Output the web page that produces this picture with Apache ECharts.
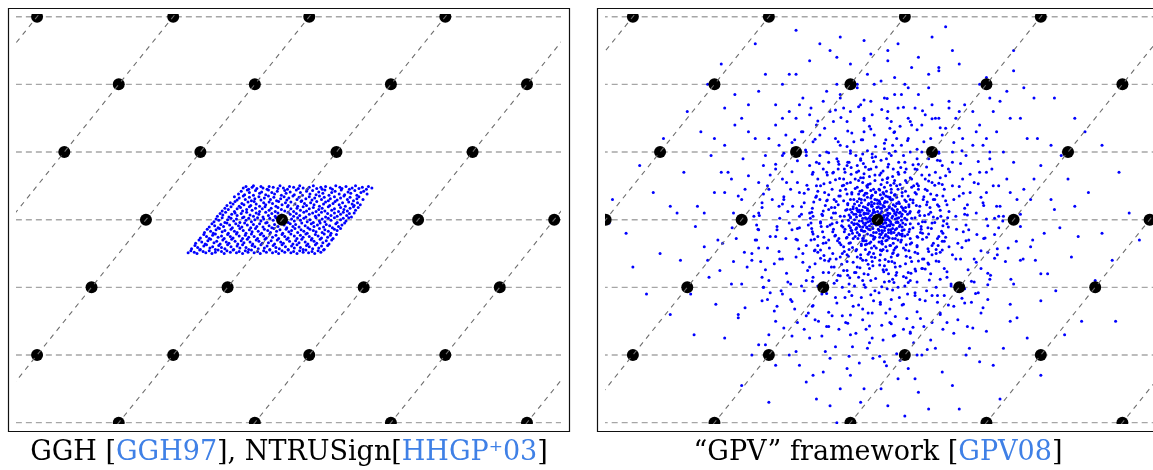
<!DOCTYPE html>
<html>
<head>
<meta charset="utf-8">
<title>GGH / GPV lattice</title>
<script src="https://cdn.jsdelivr.net/npm/echarts@6.0.0/dist/echarts.min.js"></script>
<style>
  html, body { margin: 0; padding: 0; background: #fff; }
  #chart { width: 1153px; height: 470px; }
</style>
</head>
<body>
<div id="chart"></div>
<script>
// lattice basis b1 = (200, 0), b2 = (80, 100), in 1/100 lattice units
const rowYs = [-300, -200, -100, 0, 100, 200, 300]
const diagOffsets = [-600, -400, -200, 0, 200, 400, 600]
const diagSlope = 0.8

const latticePts = [
  [-360, 300], [-160, 300], [40, 300], [240, 300],
  [-240, 200], [-40, 200], [160, 200], [360, 200],
  [-320, 100], [-120, 100], [80, 100], [280, 100],
  [-400, 0], [-200, 0], [0, 0], [200, 0], [400, 0],
  [-280, -100], [-80, -100], [120, -100], [320, -100],
  [-360, -200], [-160, -200], [40, -200], [240, -200],
  [-240, -300], [-40, -300], [160, -300], [360, -300]
]

// GGH: points inside the fundamental parallelogram (x, y, x, y ...)
const leftCloud = [
  -57,47, -53,49, -49,45, -44,48, -42,50, -37,46, -31,49, -28,47, -22,45, -19,49, -13,48, -6,46, -3,50, 2,47, 8,45, 11,49, 17,48, 24,46, 26,50, 31,47, 37,45, 40,48, 46,50, 51,46, 57,48, 59,45, 64,49, 71,47, 74,45, 79,50, 85,48, 88,46, 94,49, 99,45, 103,47, 108,50, 113,46, 118,48, 124,45, 127,49, 132,47,
  -64,38, -60,42, -55,37, -51,44, -48,40, -42,36, -39,43, -33,39, -30,41, -24,37, -20,44, -15,40, -11,38, -7,42, -1,36, 4,43, 6,39, 12,41, 18,37, 21,44, 27,40, 30,36, 36,42, 41,38, 45,43, 50,37, 54,41, 60,39, 63,44, 69,36, 73,40, 78,42, 84,38, 87,44, 92,37, 97,41, 101,39, 107,43, 110,36, 116,40, 120,42, 125,38,
  -70,34, -66,29, -63,32, -57,35, -54,30, -48,33, -45,28, -40,31, -34,34, -31,29, -26,32, -20,35, -17,30, -12,33, -8,28, -2,31, 3,34, 7,29, 10,32, 16,35, 22,30, 25,33, 29,28, 35,31, 40,34, 44,29, 48,32, 55,35, 58,30, 62,33, 68,28, 71,31, 77,34, 81,29, 86,32, 91,35, 96,30, 100,33, 105,28, 110,31, 113,34, 119,30,
  -81,21, -76,25, -72,23, -69,27, -63,20, -59,24, -56,22, -50,26, -46,21, -41,27, -38,23, -33,20, -27,25, -24,22, -19,26, -14,24, -9,20, -5,27, 0,22, 5,25, 9,21, 13,26, 19,23, 23,20, 28,27, 33,24, 36,21, 42,25, 47,22, 51,27, 55,20, 61,23, 64,26, 70,21, 75,24, 78,27, 84,22, 89,25, 93,20, 98,26, 103,23, 106,21, 111,25, 115,22,
  -88,13, -84,17, -79,15, -75,19, -70,12, -66,16, -61,18, -58,13, -52,15, -48,19, -44,14, -39,17, -33,12, -29,16, -25,19, -19,14, -16,17, -10,12, -6,18, -1,15, 4,13, 8,19, 13,16, 17,12, 22,17, 27,14, 31,19, 36,13, 40,16, 46,18, 50,12, 54,15, 59,17, 63,13, 68,19, 73,14, 77,16, 83,12, 86,18, 91,15, 96,13, 100,17, 105,19, 108,14, 112,18,
  -95,5, -91,9, -87,7, -83,11, -78,4, -74,8, -69,10, -66,6, -60,9, -56,4, -52,11, -47,7, -42,5, -38,10, -34,8, -28,4, -24,11, -20,6, -15,9, -10,5, -6,10, -1,7, 3,4, 9,11, 12,8, 17,5, 21,9, 26,6, 32,11, 35,4, 40,8, 45,10, 49,5, 54,7, 58,11, 64,4, 67,9, 72,6, 77,10, 81,5, 86,8, 90,11, 95,6, 99,9, 102,4, 106,10,
  -100,-3, -97,1, -93,-1, -88,3, -84,-4, -80,0, -75,2, -71,-2, -67,1, -62,-4, -58,3, -53,-1, -49,2, -45,-3, -40,0, -36,3, -31,-2, -27,1, -22,-4, -18,2, -13,-1, -9,3, -4,-3, 0,0, 5,2, 9,-4, 14,1, 18,-2, 23,3, 27,-1, 32,2, 37,-3, 41,0, 46,-4, 50,3, 55,-2, 59,1, 63,-3, 68,2, 72,-1, 77,3, 81,-4, 86,0, 90,2, 94,-2, 98,3,
  -107,-11, -103,-6, -99,-9, -94,-12, -90,-7, -86,-10, -81,-5, -77,-8, -73,-12, -68,-6, -64,-9, -59,-11, -55,-5, -51,-8, -46,-12, -42,-7, -37,-10, -33,-6, -28,-11, -24,-5, -19,-9, -15,-12, -11,-7, -6,-10, -2,-5, 3,-8, 7,-12, 12,-6, 16,-10, 20,-7, 25,-11, 29,-5, 34,-9, 38,-12, 43,-6, 47,-10, 52,-8, 56,-5, 61,-11, 65,-7, 70,-9, 74,-12, 79,-6, 83,-10, 88,-8, 92,-5,
  -114,-19, -110,-14, -105,-17, -101,-20, -97,-15, -92,-13, -88,-18, -84,-16, -79,-20, -75,-14, -70,-17, -66,-19, -62,-13, -57,-16, -53,-20, -48,-15, -44,-18, -39,-13, -35,-17, -30,-20, -26,-14, -21,-16, -17,-19, -12,-13, -8,-17, -3,-15, 1,-20, 6,-14, 10,-18, 14,-16, 19,-13, 23,-19, 28,-15, 32,-17, 37,-20, 41,-14, 46,-16, 50,-18, 55,-13, 59,-19, 63,-15, 68,-17, 72,-20, 77,-14, 81,-16, 86,-13,
  -120,-27, -115,-22, -111,-25, -107,-28, -102,-23, -98,-21, -94,-26, -89,-24, -85,-28, -80,-22, -76,-25, -72,-27, -67,-21, -63,-24, -58,-28, -54,-23, -49,-26, -45,-21, -41,-25, -36,-28, -32,-22, -27,-24, -23,-27, -18,-21, -14,-26, -9,-23, -5,-28, 0,-22, 4,-25, 9,-27, 13,-21, 18,-24, 22,-28, 27,-23, 31,-26, 35,-21, 40,-25, 44,-28, 49,-22, 53,-24, 58,-27, 62,-21, 67,-26, 71,-23, 75,-28, 80,-22,
  -127,-35, -122,-30, -118,-33, -113,-36, -109,-31, -105,-29, -100,-34, -96,-32, -91,-36, -87,-30, -82,-33, -78,-35, -74,-29, -69,-32, -65,-36, -60,-31, -56,-34, -51,-29, -47,-33, -43,-36, -38,-30, -34,-32, -29,-35, -25,-29, -20,-34, -16,-31, -11,-36, -7,-30, -2,-33, 2,-35, 7,-29, 11,-32, 16,-36, 20,-31, 25,-34, 29,-29, 34,-33, 38,-36, 43,-30, 47,-32, 51,-35, 56,-29, 60,-34, 65,-31, 69,-36, 73,-30,
  -133,-43, -128,-38, -124,-41, -120,-44, -115,-39, -111,-37, -106,-42, -102,-40, -98,-44, -93,-38, -89,-41, -84,-43, -80,-37, -75,-40, -71,-44, -66,-39, -62,-42, -58,-37, -53,-41, -49,-44, -44,-38, -40,-40, -35,-43, -31,-37, -26,-42, -22,-39, -18,-44, -13,-38, -9,-41, -4,-43, 0,-37, 5,-40, 9,-44, 14,-39, 18,-42, 22,-37, 27,-41, 31,-44, 36,-38, 40,-40, 45,-43, 49,-37, 54,-42, 58,-39, 62,-44, 67,-38,
  -138,-49, -134,-46, -129,-48, -125,-50, -121,-45, -116,-47, -112,-49, -107,-46, -103,-50, -98,-48, -94,-45, -89,-47, -85,-50, -81,-46, -76,-48, -72,-45, -67,-49, -63,-47, -58,-50, -54,-46, -50,-48, -45,-45, -41,-49, -36,-47, -32,-50, -27,-46, -23,-48, -18,-45, -14,-49, -9,-47, -5,-50, 0,-46, 4,-48, 9,-45, 13,-49, 17,-47, 22,-50, 26,-46, 31,-48, 35,-45, 39,-49, 44,-47, 48,-50, 53,-46, 57,-48, 61,-45
]

// GPV: cloud around the origin lattice point (x, y, x, y ...)
const rightCloud = [
  // core
  2,-3, -5,4, 7,1, -2,-8, 11,-4, -9,-6, 4,9, -13,2, 15,6, -6,13, 1,-14, 9,-11, -17,-5, 18,-9, -11,-15, 6,17, -20,8, 21,3, 3,-21, -8,20,
  14,15, -15,14, 22,-13, -23,-2, 0,24, 12,-22, -19,-17, 25,9, -4,-26, -26,11, 17,20, 27,-4, -13,24, 8,-27, -28,-8, 20,-20, -21,19, 28,11, -1,29, 10,25,
  -24,-16, 26,-15, 5,3, -3,-1, 8,-6, -7,10, 13,0, -12,-9, 0,12, 16,-15, -18,3, 10,19, -6,-19, 19,-3, -16,-12, 4,-10, -10,1, 12,7, -1,18, 23,14,
  -25,6, 6,-16, -14,9, 17,-8, -9,22, 24,-19, -22,-11, 3,26, 15,-25, -27,14, 29,2, -5,-28, 1,6, -4,-5, 9,4, -11,-2, 7,-19, -20,-24,
  -9,-42, 4,-45, 12,-40, -18,-37, -5,-39, 7,-36, 19,-38, -22,-31, -12,-35, 2,-33, 14,-30, 23,-35, -29,-28, -17,-31, -6,-29, 6,-32, 17,-27, 30,-30,
  -33,-25, -21,-27, -10,-23, 3,-26, 11,-24, 22,-28, 33,-22, -37,-20, -27,-23, -15,-21, -7,-24, 5,-22, 16,-19, 28,-23, 36,-21,
  -39,-16, -30,-19, -21,-17, -13,-14, -2,-19, 10,-16, 20,-18, 31,-20, 39,-15, -40,-12, -32,-14, -24,-15, -16,-11, -7,-13, 2,-16, 11,-12, 19,-15, 28,-13, 36,-11,
  -42,-9, -35,-7, -26,-10, -19,-8, -8,-11, 0,-7, 6,-10, 14,-9, 23,-8, 32,-10, 41,-7, -38,-4, -30,-6, -21,-5, -14,-3, -5,-6, 3,-4, 12,-5, 20,-6, 29,-3, 37,-5,
  -43,-1, -34,0, -27,-2, -16,1, -7,-1, 1,-2, 10,0, 17,-1, 26,1, 35,-1, 43,0, -40,3, -31,4, -22,2, -11,5, -3,3, 5,4, 14,2, 22,5, 31,3, 40,2,
  -42,7, -35,8, -26,6, -17,9, -9,7, 2,8, 9,6, 18,9, 27,7, 36,8, -38,11, -29,12, -20,10, -12,13, -4,11, 6,12, 15,10, 24,13, 33,11, 41,12,
  -40,15, -31,17, -23,14, -15,16, -6,15, 4,17, 12,14, 21,16, 29,15, 37,17, -36,19, -27,21, -18,18, -9,20, 1,19, 8,21, 17,18, 26,20, 35,19,
  -34,23, -24,25, -14,22, -5,24, 4,23, 14,26, 23,22, 32,24, -30,27, -19,29, -9,26, 2,28, 11,27, 20,29, 31,26,
  -27,31, -15,33, -4,30, 7,32, 18,31, 28,33, -20,36, -9,35, 4,37, 15,34, 25,36, -16,39, -3,41, 9,38, 20,40, -10,43, 3,44, 13,42,
  // 30 - 100
  35,5, 48,12, 62,20, 41,18, 55,3, 67,30, 38,14, 52,25, 44,8, 60,11, 32,10, 69,6, 46,22,
  28,24, 36,40, 45,35, 30,45, 50,48, 22,30, 40,29, 33,52, 55,40, 26,37, 43,55, 48,30, 60,45,
  12,35, 20,45, 5,52, 15,62, 25,58, 8,40, 18,33, 3,66, 28,50, 10,48, 22,64, 6,31, 14,55,
  -8,36, -15,48, -4,58, -22,55, -12,64, -18,39, -6,45, -25,62, -10,32, -20,68, -14,52, -3,40,
  -24,30, -38,40, -30,48, -45,38, -52,50, -28,38, -40,55, -35,30, -55,35, -33,60, -47,45, -26,42,
  -32,8, -45,15, -58,22, -40,4, -62,10, -50,28, -36,16, -68,18, -55,5, -44,24, -30,14, -64,30,
  -34,-6, -48,-14, -60,-4, -42,-22, -66,-18, -53,-9, -38,-16, -70,-8, -45,-26, -57,-28, -31,-12, -63,-24,
  -27,-22, -40,-34, -32,-46, -50,-40, -24,-36, -45,-52, -36,-28, -56,-34, -30,-55, -42,-44, -52,-50, -22,-28,
  -10,-33, -18,-44, -6,-50, -22,-60, -14,-66, -2,-42, -16,-36, -25,-52, -8,-62, -20,-31, -4,-56, -12,-48,
  6,-35, 14,-46, 3,-60, 20,-55, 10,-68, 18,-38, 8,-44, 25,-64, 12,-31, 22,-50, 4,-52, 16,-62,
  26,-28, 38,-42, 30,-52, 48,-36, 55,-48, 34,-33, 42,-54, 28,-40, 58,-38, 46,-46, 36,-24, 24,-45,
  33,-8, 46,-18, 60,-6, 40,-24, 66,-20, 52,-12, 36,-16, 70,-3, 48,-28, 58,-25, 30,-4, 64,-14,
  -20,-96, 6,-99, 24,-93, -41,-86, -22,-90, -3,-87, 17,-91, 38,-84, -55,-83, -34,-78, -14,-81, 9,-77, 27,-82, 49,-79,
  -64,-70, -45,-75, -26,-71, -7,-68, 13,-74, 33,-69, 55,-73, 66,-72, -72,-61, -53,-66, -36,-63, -17,-60, 3,-67, 21,-62, 41,-65, 60,-61, 74,-64,
  -79,-53, -61,-58, -43,-54, -25,-57, -9,-55, 11,-59, 29,-53, 48,-56, 66,-58, 80,-52, -84,-45, -66,-50, -49,-47, -31,-44, -14,-51, 6,-46, 23,-49, 41,-45, 59,-50, 75,-47, 86,-44,
  -88,-38, -71,-42, -54,-37, -37,-41, -24,-38, 26,-42, 42,-37, 58,-40, 74,-43, 89,-38, -93,-29, -76,-34, -59,-31, -42,-35, 35,-30, 50,-34, 66,-29, 82,-35, 95,-32,
  -95,-21, -79,-26, -62,-23, -46,-27, 44,-22, 59,-26, 75,-21, 90,-25, -97,-13, -81,-18, -65,-14, -49,-18, 47,-14, 63,-19, 79,-13, 94,-17,
  -98,-5, -83,-10, -67,-6, -51,-11, 48,-6, 64,-10, 80,-5, 96,-9, -99,2, -84,-3, -68,3, -52,-2, 50,2, 66,-3, 82,4, 97,-2,
  -97,11, -81,6, -65,10, -49,5, 47,10, 62,6, 78,11, 93,5, -96,17, -80,13, -63,18, -47,14, 46,19, 61,13, 77,18, 92,14,
  -94,26, -77,21, -61,27, -44,22, 42,27, 57,21, 73,26, 88,22, -91,33, -74,29, -57,35, -40,30, 36,35, 52,29, 68,34, 84,30,
  -88,42, -72,37, -55,43, -38,38, -23,43, 25,37, 41,42, 57,38, 73,43, 87,36, -84,50, -67,45, -50,51, -33,46, -16,50, 2,45, 19,51, 36,46, 53,50, 70,45, 84,51,
  -79,53, -62,59, -45,54, -28,58, -11,53, 7,59, 24,54, 41,58, 58,53, 75,57, -74,66, -56,61, -39,67, -21,62, -4,66, 14,61, 31,67, 48,62, 65,66,
  -66,69, -49,75, -31,70, -13,74, 5,69, 23,75, 40,70, 58,74, -57,82, -39,77, -21,83, -2,78, 16,82, 34,77, 52,81, -44,85, -25,90, -6,86, 13,90, 31,85, -22,97, -3,93, 17,98,
  // 70 - 180
  75,8, 90,20, 105,12, 120,35, 82,30, 98,45, 115,5, 132,22, 88,2, 110,50, 125,60, 78,38, 100,28, 95,52, 128,8, 72,22, 112,30, 136,40,
  60,50, 70,60, 85,70, 75,90, 95,80, 55,75, 100,65, 65,100, 80,55, 90,100, 50,60, 110,85, 72,78, 58,90, 88,88, 104,75, 68,115, 92,62,
  30,70, 40,85, 20,95, 35,110, 15,78, 45,120, 25,130, 10,105, 38,95, 5,88, 28,120, 48,100, 18,135, 8,72, 42,75, 22,110, 33,138, 12,118,
  -10,75, -25,88, -15,102, -35,115, -5,125, -30,80, -20,130, -40,98, -8,92, -28,72, -45,108, -12,138, -38,128, -22,118, -3,108, -42,85, -18,78, -32,95,
  -50,60, -65,70, -60,90, -80,75, -75,100, -55,110, -90,85, -45,80, -70,55, -95,70, -62,120, -85,95, -48,70, -100,80, -72,85, -58,75, -88,60, -105,95,
  -72,15, -85,30, -100,10, -115,40, -90,50, -125,20, -78,40, -108,25, -95,5, -132,12, -82,8, -118,55, -102,45, -138,30, -75,28, -112,8, -90,35, -128,45,
  -74,-10, -88,-25, -102,-8, -118,-30, -92,-45, -126,-15, -80,-35, -110,-50, -96,-18, -135,-28, -84,-5, -120,-55, -105,-38, -72,-30, -130,-5, -98,-30, -115,-12, -88,-48,
  -55,-55, -68,-70, -60,-90, -80,-78, -75,-102, -52,-100, -95,-85, -45,-62, -70,-58, -100,-70, -62,-115, -88,-98, -50,-75, -105,-90, -78,-60, -58,-82, -92,-65, -82,-110,
  -12,-72, -28,-85, -18,-100, -38,-112, -6,-120, -32,-78, -22,-132, -42,-95, -10,-90, -30,-70, -48,-115, -14,-138, -36,-128, -24,-115, -4,-105, -44,-82, -20,-80, -34,-98,
  8,-74, 22,-88, 14,-102, 32,-115, 4,-125, 28,-78, 18,-132, 40,-98, 10,-92, 26,-70, 44,-110, 12,-138, 36,-126, 20,-118, 2,-108, 42,-86, 16,-80, 30,-100,
  50,-62, 65,-72, 58,-92, 78,-80, 72,-105, 55,-112, 92,-88, 45,-78, 68,-58, 98,-72, 62,-118, 86,-100, 48,-90, 102,-85, 75,-66, 56,-76, 90,-62, 80,-112,
  74,-12, 88,-28, 102,-6, 118,-35, 92,-48, 126,-18, 80,-38, 110,-52, 96,-20, 134,-30, 84,-4, 122,-58, 105,-40, 72,-26, 130,-8, 98,-32, 116,-14, 86,-50,
  -40,-170, -8,-175, 25,-171, 48,-168, -75,-158, -44,-153, -12,-157, 20,-154, 52,-159, 80,-152,
  -105,-142, -72,-137, -40,-141, -8,-138, 26,-143, 58,-136, 92,-140, -126,-121, -95,-127, -60,-123, -28,-126, 4,-122, 38,-125, 70,-120, 104,-126, 128,-123,
  -140,-110, -108,-105, -75,-109, -42,-106, -10,-111, 22,-104, 55,-108, 88,-112, 118,-106, 144,-109, -160,-90, -128,-95, -96,-91, -64,-94, 45,-93, 76,-89, 108,-95, 138,-91, 165,-88,
  -165,-74, -134,-79, -103,-75, -72,-78, 70,-73, 102,-77, 133,-74, 162,-79, -172,-62, -140,-58, -110,-63, -84,-57, 86,-61, 115,-58, 145,-63, 172,-57,
  -175,-42, -145,-47, -116,-43, -93,-46, 95,-45, 124,-41, 152,-46, 176,-43, -178,-30, -150,-25, -120,-29, 100,-26, 130,-31, 158,-27,
  -176,-14, -148,-10, -118,-13, 104,-11, 134,-15, 162,-9, -174,6, -144,2, -115,5, 103,3, 132,7, 160,1, 178,5,
  -170,18, -140,23, -112,19, 102,22, 128,17, 156,21, -168,38, -138,34, -108,39, 96,35, 126,39, 152,33,
  -162,50, -134,55, -104,51, 90,54, 120,49, 148,53, 170,50, -158,66, -126,71, -96,67, -75,70, 76,66, 106,71, 136,67, 160,70,
  -150,82, -118,87, -86,83, -58,86, 60,82, 92,87, 122,83, 148,86, -138,98, -106,103, -72,99, -40,102, -8,97, 26,101, 58,104, 90,98, 124,102,
  -126,114, -92,119, -58,115, -24,118, 10,113, 44,117, 78,120, 112,114, -112,130, -78,135, -44,131, -10,134, 24,129, 58,133, 92,136,
  -88,146, -54,151, -20,147, 14,150, 48,145, 80,149, -62,162, -28,167, 6,163, 38,166, 66,161, -20,177, 14,179,
  // 140 - 220
  145,10, 160,40, 175,20, 190,60, 150,70, 205,30, 168,75, 185,5, 200,85, 155,25, 178,50, 210,8, 142,55, 195,40, 165,90, 215,45, 172,2,
  110,100, 125,120, 140,110, 100,135, 150,140, 130,95, 115,150, 160,120, 95,125, 140,160, 120,135, 165,100, 105,165, 145,130, 128,170, 155,110, 90,150,
  50,140, 70,155, 30,165, 60,185, 20,145, 80,170, 40,200, 10,180, 55,165, 25,210, 75,195, 45,150, 15,160, 65,140, 35,185, 5,205, 85,150,
  -20,150, -40,160, -10,175, -55,180, -30,195, -70,160, -5,200, -45,145, -60,200, -25,170, -80,175, -15,215, -50,165, -35,205, -65,145, -8,155, -75,190,
  -95,115, -110,130, -125,105, -100,155, -135,125, -120,150, -90,140, -145,110, -115,170, -105,100, -150,140, -130,160, -85,125, -140,95, -98,165, -122,118, -160,120,
  -145,20, -160,45, -175,10, -190,65, -150,75, -205,35, -168,80, -182,5, -198,90, -155,30, -175,55, -212,10, -140,60, -195,45, -165,95, -215,60, -170,25,
  -148,-15, -162,-42, -178,-8, -192,-70, -152,-65, -208,-28, -170,-85, -185,-50, -200,-95, -158,-25, -180,-30, -214,-12, -144,-58, -196,-48, -168,-100, -212,-62, -175,-15,
  -112,-98, -128,-118, -142,-105, -102,-138, -152,-135, -132,-92, -118,-152, -162,-118, -96,-128, -138,-160, -122,-132, -168,-100, -108,-162, -148,-128, -126,-172, -158,-108, -92,-148,
  -52,-142, -72,-158, -32,-168, -62,-188, -22,-148, -82,-172, -42,-202, -12,-182, -57,-162, -27,-212, -77,-195, -47,-152, -17,-162, -67,-142, -37,-188, -7,-205, -87,-150,
  18,-152, 38,-162, 8,-178, 53,-182, 28,-198, 68,-158, 3,-202, 43,-146, 58,-200, 23,-172, 78,-178, 13,-216, 48,-166, 33,-208, 63,-146, 6,-156, 73,-192,
  98,-112, 112,-128, 128,-102, 102,-152, 138,-122, 118,-148, 92,-138, 148,-108, 112,-168, 108,-98, 152,-138, 132,-158, 88,-122, 142,-92, 96,-162, 124,-116, 162,-118,
  146,-22, 162,-48, 178,-12, 188,-62, 152,-72, 204,-32, 166,-82, 184,-2, 196,-88, 156,-28, 176,-52, 210,-10, 142,-58, 192,-42, 162,-96, 214,-58, 172,-22,
  // 180 - 300
  -250,-60, -240,40, -225,110, -205,-140, -190,170, -160,-200, -130,215, -95,-230, -60,240, -20,-250, 15,250, 55,-235, 90,225, 130,-200, 165,180,
  195,-150, 220,120, 240,-80, 255,30, 245,-20, -255,10, -215,-95, -180,120, -150,-150, -110,180, -70,-205, -30,200, 10,-210, 45,195, 85,-190,
  120,160, 155,-130, 185,100, 210,-60, 230,60, 205,0, -200,30, -185,-60, -220,70, -170,-120, -140,150, -100,-175, -55,185, -15,-190, 25,185,
  65,-200, 105,175, 140,-160, 175,130, 200,-95, 225,-40, 180,20, -235,-30, -210,140, -120,-195, 75,215, -45,-220, 150,200, 195,150, -165,-185,
  225,30, 240,80, 260,15, 280,60, 235,120, 290,20, 255,110, 270,95,
  170,160, 190,190, 210,150, 160,210, 230,180, 200,220, 180,175, 215,195,
  90,220, 60,240, 110,250, 30,260, 80,270, 50,225, 120,230, 15,235,
  -40,230, -70,250, -20,265, -100,235, -55,270, -120,215, -85,260, -10,245,
  -150,170, -175,190, -200,150, -165,215, -210,185, -190,130, -140,200, -225,165,
  -225,40, -245,95, -265,20, -285,70, -240,120, -295,10, -260,130, -230,70,
  -228,-35, -248,-85, -268,-10, -290,-60, -238,-125, -275,-110, -255,-40, -232,-75,
  -160,-170, -185,-200, -205,-145, -150,-215, -225,-175, -175,-185, -130,-200, -195,-130,
  -80,-225, -55,-250, -105,-240, -25,-270, -70,-275, -115,-215, -40,-230, -90,-265,
  30,-235, 60,-255, 15,-275, 95,-225, 75,-280, 110,-245, 45,-220, 5,-250,
  160,-165, 185,-190, 205,-145, 150,-210, 220,-175, 170,-215, 135,-190, 195,-125,
  228,-30, 250,-80, 268,-12, 285,-55, 240,-120, 295,-25, 232,-60, 262,-105,
  // tail
  310,40, 330,-20, 355,70, 320,-90, 370,10, 305,130, 345,-60, 385,-30, 300,-150, 330,110,
  -305,20, -320,-50, -350,80, -315,120, -370,-20, -340,-110, -390,30, -305,-140, -330,40, -360,-70,
  -395,-5, 200,250, -180,260, -230,230, 240,-230, -200,-245, 180,-265, -120,280, 100,285, -60,-300,
  40,-290, 260,180, -270,-170, 290,150, -280,160, 275,-170, -250,200, 120,-280, -160,-270, 350,-150
]

const citeColor = '#3f80e6'
const captionLeft = '{k|GGH [}{c|GGH97}{k|], NTRUSign[}{c|HHGP⁺03}{k|]}'
const captionRight = '{k|“GPV” framework [}{c|GPV08}{k|]}'

function toPairs(flat) {
  const out = []
  for (let i = 0; i < flat.length; i += 2) out.push([flat[i], flat[i + 1]])
  return out
}

// one panel: dashed rows, cloud, lattice points, dashed b2-lines
function panelSeries(idx, cloud) {
  const list = []
  rowYs.forEach(y => {
    list.push({
      type: 'line', xAxisIndex: idx, yAxisIndex: idx, silent: true, z: 1,
      showSymbol: false, data: [[-450, y], [450, y]],
      lineStyle: { color: '#a6a6a6', width: 1.4, type: [6, 4] }
    })
  })
  list.push({
    type: 'scatter', xAxisIndex: idx, yAxisIndex: idx, silent: true, z: 2,
    data: toPairs(cloud), symbolSize: 3,
    itemStyle: { color: '#0000ff', opacity: 1 }
  })
  list.push({
    type: 'scatter', xAxisIndex: idx, yAxisIndex: idx, silent: true, z: 3,
    data: latticePts, symbolSize: 12,
    itemStyle: { color: '#000', opacity: 1 }
  })
  diagOffsets.forEach(off => {
    list.push({
      type: 'line', xAxisIndex: idx, yAxisIndex: idx, silent: true, z: 4,
      showSymbol: false,
      data: [[off - diagSlope * 360, -360], [off + diagSlope * 360, 360]],
      lineStyle: { color: '#6e6e6e', width: 1.1, type: [5, 5] }
    })
  })
  return list
}

function frameGraphics() {
  const mask = (x, y, w, h) => ({
    type: 'rect', z: 100, silent: true,
    shape: { x: x, y: y, width: w, height: h }, style: { fill: '#fff' }
  })
  const frame = (x, y, w, h) => ({
    type: 'rect', z: 101, silent: true,
    shape: { x: x, y: y, width: w, height: h },
    style: { fill: 'none', stroke: '#111', lineWidth: 1.2 }
  })
  const caption = (x, text) => ({
    type: 'text', z: 101, silent: true, x: x, y: 453,
    style: {
      text: text, align: 'center', verticalAlign: 'middle',
      fontFamily: 'DejaVu Serif', fontSize: 27, fill: '#000',
      rich: {
        k: { fontFamily: 'DejaVu Serif', fontSize: 27, fill: '#000' },
        c: { fontFamily: 'DejaVu Serif', fontSize: 27, fill: citeColor }
      }
    }
  })
  return [
    // left panel
    mask(8, 8, 562, 6), mask(8, 424, 562, 8), mask(8, 8, 8, 424), mask(561, 8, 9, 424),
    frame(8.5, 8.5, 561, 423),
    // right panel (cut by the page edge)
    mask(597, 8, 556, 6), mask(597, 424, 556, 8), mask(597, 8, 8, 424),
    frame(597.5, 8.5, 562, 423),
    caption(289, captionLeft),
    caption(878, captionRight)
  ]
}

function initChart() {
  const chart = echarts.init(document.getElementById('chart'), null, { renderer: 'canvas' })
  const option = {
    animation: false,
    backgroundColor: '#fff',
    grid: [
      { left: 16, top: 14, width: 545, height: 410 },
      { left: 605, top: 14, width: 548, height: 410 }
    ],
    xAxis: [
      { type: 'value', gridIndex: 0, min: -391, max: 410, show: false },
      { type: 'value', gridIndex: 1, min: -401, max: 405, show: false }
    ],
    yAxis: [
      { type: 'value', gridIndex: 0, min: -302, max: 304, show: false },
      { type: 'value', gridIndex: 1, min: -302, max: 304, show: false }
    ],
    graphic: frameGraphics(),
    series: panelSeries(0, leftCloud).concat(panelSeries(1, rightCloud))
  }
  chart.setOption(option)
}

initChart()
</script>
</body>
</html>
